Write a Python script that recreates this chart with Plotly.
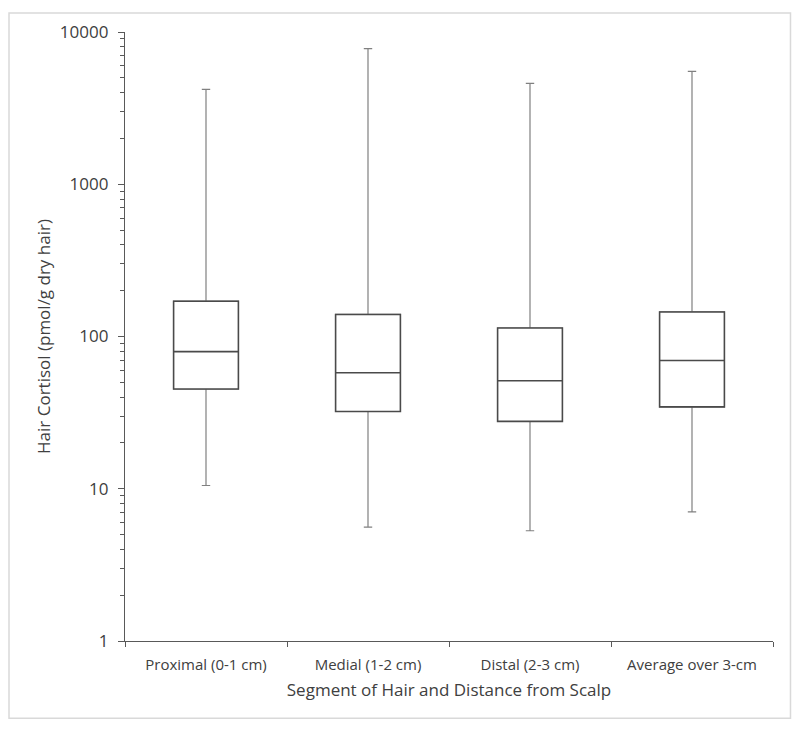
import plotly.graph_objects as go

categories = ["Proximal (0-1 cm)", "Medial (1-2 cm)", "Distal (2-3 cm)", "Average over 3-cm"]
minimum = [10.5, 5.6, 5.3, 7.05]
q1 = [45.2, 32.2, 27.7, 34.5]
median = [79.6, 57.8, 51.2, 69.5]
q3 = [170.5, 139.6, 113.6, 145.0]
maximum = [4205, 7780, 4600, 5510]

y_tickvals = [1, 10, 100, 1000, 10000]
y_ticktext = ["1", "10", "100", "1000", "10000"]

font_family = "Open Sans, Lato, DejaVu Sans, sans-serif"
text_color = "#404040"

fig = go.Figure()

# whiskers (lighter, thinner)
fig.add_trace(go.Box(
    x=categories, q1=q1, median=median, q3=q3,
    lowerfence=minimum, upperfence=maximum,
    width=0.4, whiskerwidth=0.13,
    line=dict(color="#808080", width=1.2),
    fillcolor="rgba(0,0,0,0)",
    boxpoints=False, hoverinfo="skip", showlegend=False,
))
# boxes on top
fig.add_trace(go.Box(
    x=categories, q1=q1, median=median, q3=q3,
    lowerfence=q1, upperfence=q3,
    width=0.4, whiskerwidth=0,
    line=dict(color="#4a4a4a", width=1.6),
    fillcolor="white",
    boxpoints=False, showlegend=False,
))

# page body has an 8px margin, so the figure is shifted by (8, 8)
fig.update_layout(
    width=792, height=721,
    margin=dict(l=117, r=27, t=20, b=88),
    paper_bgcolor="white", plot_bgcolor="white",
    boxmode="overlay",
    font=dict(family=font_family, color=text_color),
    showlegend=False,
    shapes=[dict(
        type="rect", xref="paper", yref="paper",
        x0=-0.179, x1=1.027, y0=-0.127, y1=1.031,
        line=dict(color="#d9d9d9", width=1.5), fillcolor="rgba(0,0,0,0)",
        layer="below",
    )],
)

fig.update_yaxes(
    type="log", range=[0, 4],
    tickvals=y_tickvals, ticktext=y_ticktext,
    ticks="outside", ticklen=6, tickwidth=1.2, tickcolor="#595959",
    ticklabelstandoff=6,
    showline=True, linecolor="#595959", linewidth=1.4,
    showgrid=False, zeroline=False,
    tickfont=dict(size=17, color=text_color),
    minor=dict(ticks="outside", ticklen=4, tickwidth=1, tickcolor="#595959",
               dtick="D1", showgrid=False),
    title=dict(text="Hair Cortisol (pmol/g dry hair)", font=dict(size=17, color=text_color), standoff=4),
)

fig.update_xaxes(
    type="category", range=[-0.5, 3.5],
    tickson="boundaries",
    ticks="outside", ticklen=5, tickwidth=1.2, tickcolor="#595959",
    ticklabelstandoff=10,
    showline=True, linecolor="#595959", linewidth=1.4,
    showgrid=False, zeroline=False,
    tickfont=dict(size=15, color=text_color),
    title=dict(text="Segment of Hair and Distance from Scalp", font=dict(size=17, color=text_color), standoff=10),
)

fig.write_html("out.html")
